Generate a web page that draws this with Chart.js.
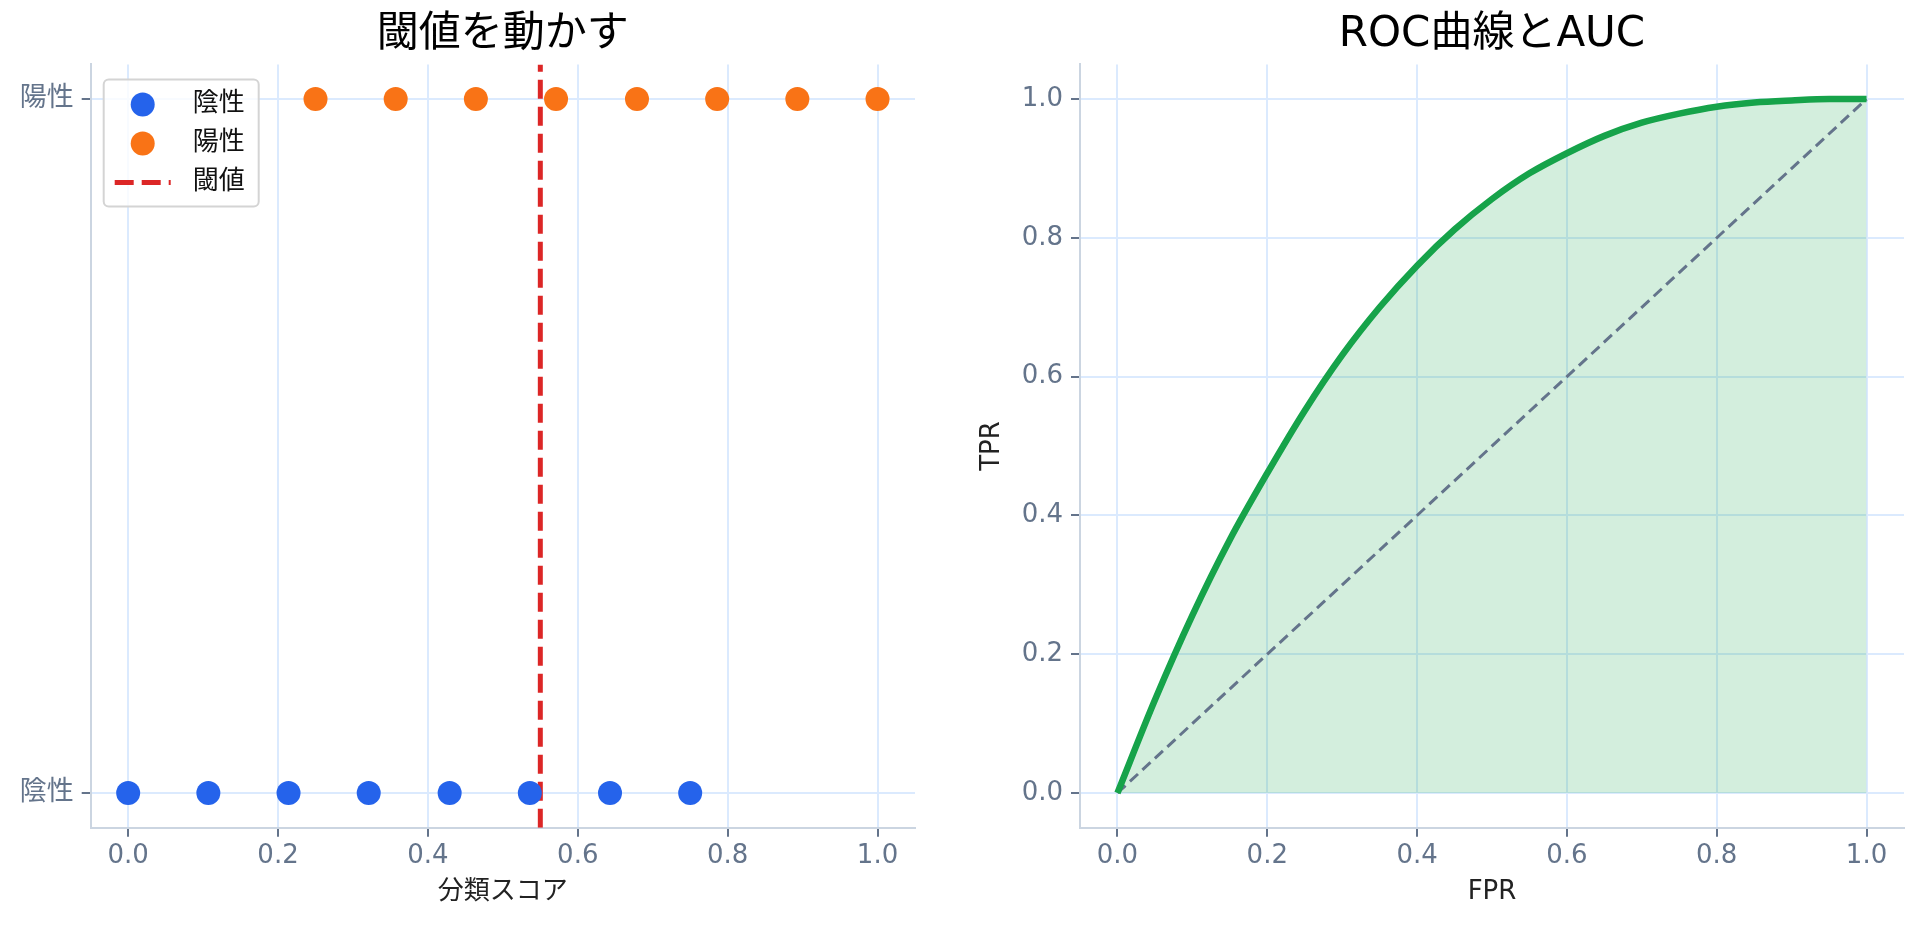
<!DOCTYPE html>
<html>
<head>
<meta charset="utf-8">
<script src="https://cdn.jsdelivr.net/npm/chart.js@4.4.1/dist/chart.umd.min.js"></script>
<style>
  body { margin: 0; background: #fff; overflow: hidden; }
  .panel { position: absolute; top: 0; width: 961px; height: 925px; }
</style>
</head>
<body>
<div class="panel" style="left:0"><canvas id="thresholdChart" width="961" height="925"></canvas></div>
<div class="panel" style="left:961px"><canvas id="rocChart" width="961" height="925"></canvas></div>
<script>
// left panel: scores per class and the threshold
const negativeScores = [0, 0.107, 0.214, 0.321, 0.429, 0.536, 0.643, 0.75]
const positiveScores = [0.25, 0.357, 0.464, 0.571, 0.679, 0.786, 0.893, 1.0]
const threshold = 0.55
const classLabels = ['陰性', '陽性']
const scoreTicks = [0, 0.2, 0.4, 0.6, 0.8, 1.0]

// right panel: ROC curve
const fpr = [0, 0.05, 0.1, 0.15, 0.2, 0.25, 0.3, 0.35, 0.4, 0.45, 0.5,
             0.55, 0.6, 0.65, 0.7, 0.75, 0.8, 0.85, 0.9, 0.95, 1.0]
const tpr = [0, 0.134, 0.256, 0.365, 0.461, 0.551, 0.631, 0.7, 0.76, 0.812, 0.856,
             0.893, 0.922, 0.947, 0.966, 0.979, 0.989, 0.995, 0.998, 1.0, 1.0]
const rateTicks = [0, 0.2, 0.4, 0.6, 0.8, 1.0]

const FONT = '"DejaVu Sans", "Noto Sans CJK JP", sans-serif'
const GRID = '#dbeafe'
const AXIS = '#cbd5e1'
const LABEL = '#64748b'

Chart.defaults.font.family = FONT
Chart.defaults.animation = false

// center the title over the plot area instead of the canvas
const centerTitle = {
    id: 'centerTitle',
    afterLayout(chart) {
        const t = chart.titleBlock
        t.left = chart.chartArea.left
        t.right = chart.chartArea.right
        t.width = t.right - t.left
    }
}

// legend with a frame, inside the plot area
const boxLegend = {
    id: 'boxLegend',
    afterDraw(chart) {
        const ctx = chart.ctx
        const area = chart.chartArea
        const x = area.left + 13
        const y = area.top + 15
        ctx.save()
        ctx.beginPath()
        ctx.roundRect(x, y, 155, 127, 5)
        ctx.fillStyle = 'rgba(255,255,255,0.8)'
        ctx.fill()
        ctx.lineWidth = 2
        ctx.strokeStyle = '#d4d4d4'
        ctx.stroke()
        chart.data.datasets.forEach((ds, i) => {
            const cy = y + 25 + i * 39
            if (ds.showLine) {
                ctx.beginPath()
                ctx.setLineDash(ds.borderDash)
                ctx.lineWidth = ds.borderWidth
                ctx.strokeStyle = ds.borderColor
                ctx.moveTo(x + 11, cy)
                ctx.lineTo(x + 67, cy)
                ctx.stroke()
                ctx.setLineDash([])
            } else {
                ctx.beginPath()
                ctx.arc(x + 39, cy, 12, 0, Math.PI * 2)
                ctx.fillStyle = ds.backgroundColor
                ctx.fill()
            }
            ctx.fillStyle = '#111'
            ctx.font = '26px ' + FONT
            ctx.textBaseline = 'middle'
            ctx.textAlign = 'left'
            ctx.fillText(ds.label, x + 89, cy)
        })
        ctx.restore()
    }
}

function axis(ticks, labelFn, extra) {
    return Object.assign({
        type: 'linear',
        min: -0.05,
        max: 1.05,
        afterBuildTicks: s => { s.ticks = ticks.map(v => ({ value: v })) },
        grid: { color: GRID, lineWidth: 2, tickLength: 9, tickColor: LABEL, tickWidth: 2 },
        border: { color: AXIS, width: 2 },
        ticks: { color: LABEL, font: { size: 26 }, callback: labelFn, autoSkip: false, maxRotation: 0 }
    }, extra)
}

function axisTitle(text, pad) {
    return { display: true, text: text, color: '#222', font: { size: 26 }, padding: pad }
}

const titleOpts = text => ({
    display: true,
    text: text,
    color: '#000',
    font: { size: 42, weight: 'normal' },
    padding: { top: 10, bottom: 4 }
})

// ---- left: threshold chart
const xLeft = axis(scoreTicks, v => v.toFixed(1), { z: 1, afterFit: s => { s.height = 97.3 } })
xLeft.ticks.padding = 4
xLeft.title = axisTitle('分類スコア', { top: 0, bottom: 17 })

const yLeft = axis([0, 1], (v, i) => classLabels[i], { z: 1, afterFit: s => { s.width = 90.7 } })
yLeft.ticks.padding = 8
yLeft.ticks.font = { size: 27 }

new Chart(document.querySelector('#thresholdChart'), {
    type: 'scatter',
    data: {
        datasets: [
            {
                label: '陰性',
                data: negativeScores.map(s => ({ x: s, y: 0 })),
                backgroundColor: '#2563eb',
                borderWidth: 0,
                pointRadius: 12
            },
            {
                label: '陽性',
                data: positiveScores.map(s => ({ x: s, y: 1 })),
                backgroundColor: '#f97316',
                borderWidth: 0,
                pointRadius: 12
            },
            {
                label: '閾値',
                data: [{ x: threshold, y: -0.05 }, { x: threshold, y: 1.05 }],
                showLine: true,
                borderColor: '#dc2626',
                borderWidth: 5,
                borderDash: [19, 8],
                pointRadius: 0
            }
        ]
    },
    options: {
        responsive: false,
        layout: { padding: { left: 0, right: 46, top: 0, bottom: 0 }, autoPadding: false },
        scales: { x: xLeft, y: yLeft },
        plugins: {
            legend: { display: false },
            tooltip: { enabled: false },
            title: titleOpts('閾値を動かす')
        }
    },
    plugins: [centerTitle, boxLegend]
})

// ---- right: ROC curve
const xRight = axis(rateTicks, v => v.toFixed(1), { afterFit: s => { s.height = 97.3 } })
xRight.ticks.padding = 4
xRight.title = axisTitle('FPR', { top: 0, bottom: 17 })

const yRight = axis(rateTicks, v => v.toFixed(1), { afterFit: s => { s.width = 119 } })
yRight.ticks.padding = 8
yRight.title = axisTitle('TPR', { top: 16, bottom: 0 })

new Chart(document.querySelector('#rocChart'), {
    type: 'line',
    data: {
        datasets: [
            {
                label: 'ROC',
                data: fpr.map((f, i) => ({ x: f, y: tpr[i] })),
                borderColor: '#16a34a',
                borderWidth: 6.5,
                backgroundColor: 'rgba(22,163,74,0.19)',
                fill: 'origin',
                cubicInterpolationMode: 'monotone',
                pointRadius: 0
            },
            {
                label: 'random',
                data: [{ x: 0, y: 0 }, { x: 1, y: 1 }],
                borderColor: '#64748b',
                borderWidth: 3,
                borderDash: [11, 6],
                fill: false,
                pointRadius: 0
            }
        ]
    },
    options: {
        responsive: false,
        layout: { padding: { left: 0, right: 18, top: 0, bottom: 0 }, autoPadding: false },
        scales: { x: xRight, y: yRight },
        plugins: {
            legend: { display: false },
            tooltip: { enabled: false },
            filler: { drawTime: 'beforeDatasetsDraw' },
            title: titleOpts('ROC曲線とAUC')
        }
    },
    plugins: [centerTitle]
})
</script>
</body>
</html>
